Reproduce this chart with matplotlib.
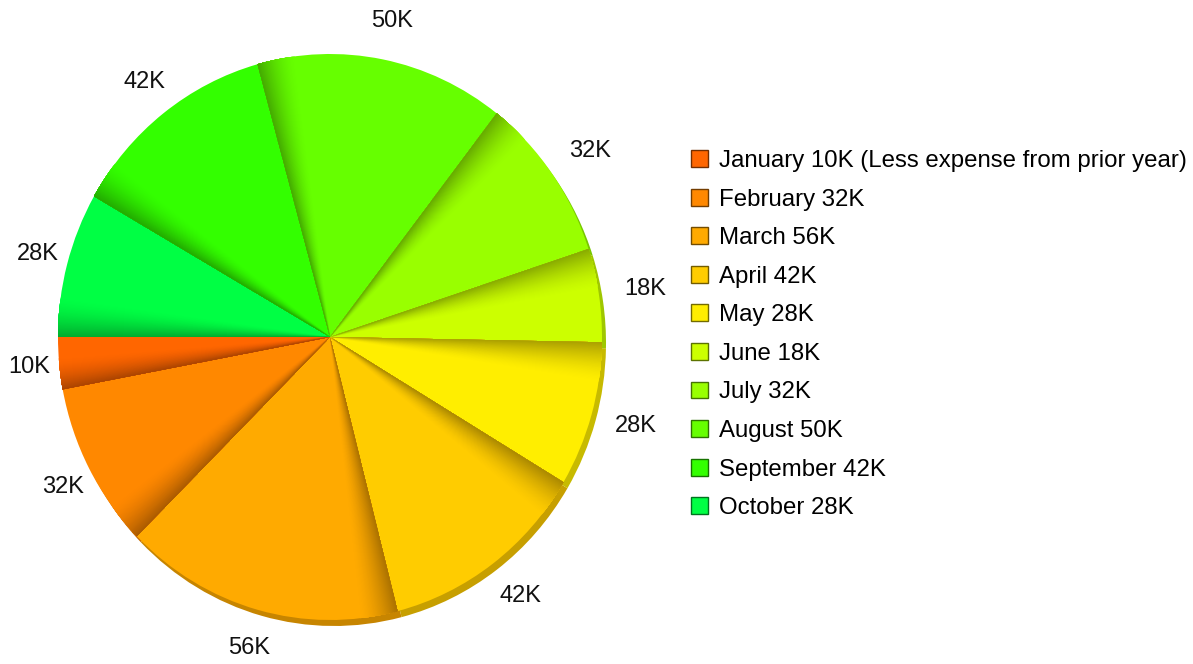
import numpy as np
import matplotlib
matplotlib.use("Agg")
import matplotlib.pyplot as plt
from matplotlib.patches import Wedge, Patch
from matplotlib.colors import to_rgb

# ==========================================================
# Data
# ==========================================================

months = ["January", "February", "March", "April", "May",
          "June", "July", "August", "September", "October"]

values = [10, 32, 56, 42, 28, 18, 32, 50, 42, 28]

value_labels = ["10K", "32K", "56K", "42K", "28K",
                "18K", "32K", "50K", "42K", "28K"]

legend_labels = [
    "January 10K (Less expense from prior year)",
    "February 32K",
    "March 56K",
    "April 42K",
    "May 28K",
    "June 18K",
    "July 32K",
    "August 50K",
    "September 42K",
    "October 28K",
]

colors = ["#FF6600", "#FF8800", "#FFAA00", "#FFCC00", "#FFEE00",
          "#CCFF00", "#99FF00", "#66FF00", "#33FF00", "#00FF44"]


def shade(color, amount):
    """Blend a colour toward black."""
    r, g, b = to_rgb(color)
    return (r * (1 - amount), g * (1 - amount), b * (1 - amount))


plt.rcParams["font.family"] = ["Liberation Sans", "DejaVu Sans"]

W, H = 1193, 664
fig = plt.figure(figsize=(W / 100, H / 100), dpi=100)

# pie face geometry in pixels (centre measured from the bottom)
cx, cy = 330, 327
rx, ry = 272, 283

ax = fig.add_axes([(cx - rx) / W, (cy - ry) / H, 2 * rx / W, 2 * ry / H])

# ==========================================================
# Rim (darker copy shifted down/right)
# ==========================================================

ax.pie(
    values,
    colors=[shade(c, 0.22) for c in colors],
    startangle=180,
    counterclock=True,
    center=(4 / rx, -6 / ry),
    wedgeprops={"linewidth": 0},
)

# ==========================================================
# Face
# ==========================================================

face, _ = ax.pie(
    values,
    colors=colors,
    startangle=180,
    counterclock=True,
    wedgeprops={"linewidth": 0},
)

# gradient band at the counter-clockwise end of every wedge
steps = 30
for wedge, color in zip(face, colors):
    t1, t2 = wedge.theta1, wedge.theta2
    band = min(8.0, (t2 - t1) * 0.6)
    for j in range(steps):
        a0 = t2 - band + j * band / steps
        amount = 0.32 * ((j + 1) / steps) ** 1.6
        ax.add_patch(Wedge((0, 0), 1, a0, t2,
                           facecolor=shade(color, amount),
                           linewidth=0))

# value labels
for wedge, text in zip(face, value_labels):
    mid = np.deg2rad((wedge.theta1 + wedge.theta2) / 2)
    x = 1.14 * np.cos(mid) + 0.03 * abs(np.cos(mid))
    y = 1.14 * np.sin(mid)
    ax.text(x, y, text,
            ha="center", va="center", fontsize=17, color="#111111")

ax.set_xlim(-1, 1)
ax.set_ylim(-1, 1)
ax.set_aspect("auto")
ax.axis("off")

# ==========================================================
# Legend
# ==========================================================

handles = [
    Patch(facecolor=c, edgecolor=shade(c, 0.55), linewidth=1)
    for c in colors
]

fig.legend(
    handles,
    legend_labels,
    loc="upper left",
    bbox_to_anchor=(691 / W, 1 - 150 / H),
    frameon=False,
    fontsize=17.3,
    handlelength=0.7,
    handleheight=0.7,
    handletextpad=0.45,
    labelspacing=0.69,
    borderpad=0,
    borderaxespad=0,
)

fig.savefig("out.png", dpi=100)
